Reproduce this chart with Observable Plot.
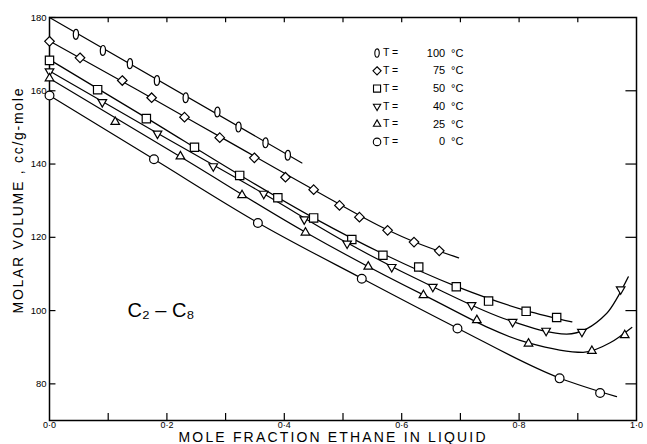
<!DOCTYPE html>
<html>
<head>
<meta charset="utf-8">
<script src="https://cdn.jsdelivr.net/npm/d3@7"></script>
<script src="https://cdn.jsdelivr.net/npm/@observablehq/plot@0.6"></script>
<style>
  html, body { margin: 0; padding: 0; background: #fff; }
  #chart svg { display: block; }
</style>
</head>
<body>
<div id="chart"></div>
<script>
// ---------- data ----------
const temps = ["100", "75", "50", "40", "25", "0"];

// measured points (mole fraction ethane, molar volume cc/g-mole)
const x100 = [0.045, 0.091, 0.137, 0.183, 0.232, 0.286, 0.322, 0.368, 0.406];
const y100 = [175.4, 171.0, 167.4, 162.8, 158.1, 154.2, 150.1, 145.8, 142.4];
const x75 = [0, 0.052, 0.124, 0.174, 0.230, 0.290, 0.349, 0.402, 0.450, 0.494, 0.528, 0.576, 0.621, 0.664];
const y75 = [173.5, 169.0, 162.8, 158.1, 152.8, 147.2, 141.7, 136.4, 133.0, 128.7, 125.5, 121.9, 118.7, 116.3];
const x50 = [0, 0.082, 0.165, 0.247, 0.324, 0.389, 0.450, 0.515, 0.568, 0.629, 0.693, 0.748, 0.812, 0.864];
const y50 = [168.3, 160.3, 152.4, 144.6, 136.9, 130.8, 125.3, 119.4, 115.1, 111.9, 106.5, 102.6, 99.8, 98.1];
const x40 = [0, 0.090, 0.184, 0.279, 0.365, 0.434, 0.507, 0.583, 0.653, 0.719, 0.789, 0.846, 0.907, 0.973];
const y40 = [165.3, 156.9, 148.3, 139.4, 131.9, 124.9, 118.3, 111.9, 106.5, 101.5, 96.9, 94.5, 94.2, 105.8];
const x25 = [0, 0.112, 0.223, 0.328, 0.436, 0.543, 0.637, 0.728, 0.816, 0.924, 0.980];
const y25 = [163.4, 151.5, 142.1, 131.5, 121.3, 112.0, 104.2, 97.4, 91.0, 89.0, 93.3];
const x0 = [0, 0.178, 0.355, 0.532, 0.695, 0.869, 0.938];
const y0 = [158.7, 141.3, 123.9, 108.7, 95.1, 81.5, 77.5];

// drawn smooth curves
const cx100 = [0, 0.43];
const cy100 = [180, 140.3];
const cx75 = [0, 0.15, 0.30, 0.45, 0.576, 0.621, 0.697];
const cy75 = [173.6, 160.2, 146.6, 133.0, 122.0, 118.8, 114.4];
const cx50 = [0, 0.165, 0.324, 0.45, 0.568, 0.693, 0.812, 0.89];
const cy50 = [168.5, 152.6, 137.0, 125.3, 115.5, 106.6, 100.0, 96.9];
const cx40 = [0, 0.184, 0.365, 0.507, 0.653, 0.789, 0.881, 0.949, 0.986];
const cy40 = [165.4, 148.4, 131.9, 118.5, 106.5, 97.0, 93.6, 99.2, 109.2];
const cx25 = [0, 0.223, 0.436, 0.637, 0.816, 0.909, 0.955, 0.992];
const cy25 = [163.4, 142.0, 121.4, 104.3, 91.2, 88.6, 91.2, 95.4];
const cx0 = [0, 0.178, 0.355, 0.532, 0.695, 0.869, 0.966];
const cy0 = [158.7, 141.3, 124.0, 108.8, 95.2, 81.6, 76.5];

// axis ticks
const xTickLabels = [0, 0.2, 0.4, 0.6, 0.8, 1.0];
const xMinorTicks = [0.1, 0.2, 0.3, 0.4, 0.5, 0.6, 0.7, 0.8, 0.9];
const yTickLabels = [80, 100, 120, 140, 160, 180];
const yRightTicks = [80, 100, 120, 140, 160];

// ---------- assemble ----------
const pts = [[x100, y100], [x75, y75], [x50, y50], [x40, y40], [x25, y25], [x0, y0]]
  .map(([xs, ys]) => xs.map((x, i) => ({x, y: ys[i]})));
const curves = [[cx100, cy100], [cx75, cy75], [cx50, cy50], [cx40, cy40], [cx25, cy25], [cx0, cy0]]
  .map(([xs, ys]) => xs.map((x, i) => ({x, y: ys[i]})));

const ellipse = {
  draw(ctx, size) {
    const r = Math.sqrt(size / Math.PI);
    const rx = r * 0.58, ry = r * 1.1, k = 0.5523;
    ctx.moveTo(0, -ry);
    ctx.bezierCurveTo(k * rx, -ry, rx, -k * ry, rx, 0);
    ctx.bezierCurveTo(rx, k * ry, k * rx, ry, 0, ry);
    ctx.bezierCurveTo(-k * rx, ry, -rx, k * ry, -rx, 0);
    ctx.bezierCurveTo(-rx, -k * ry, -k * rx, -ry, 0, -ry);
    ctx.closePath();
  }
};
const symbols = [
  {symbol: ellipse, r: 4.5, rotate: 0},
  {symbol: "diamond2", r: 4.3, rotate: 0},
  {symbol: "square2", r: 5.3, rotate: 0},
  {symbol: "triangle2", r: 4.1, rotate: 180},
  {symbol: "triangle2", r: 4.1, rotate: 0},
  {symbol: "circle", r: 4.4, rotate: 0}
];

const legendRows = temps.map((t, i) => ({t, i}));
const legY = d => 170.3 - d.i * 4.85;

const font = "'Liberation Sans', Arial, sans-serif";

const marks = [
  Plot.frame({stroke: "black", strokeWidth: 1.5}),
  // inward ticks
  Plot.ruleX(xMinorTicks, {x: d => d, y1: 70, y2: 71.9, stroke: "black", strokeWidth: 1.2}),
  Plot.ruleX(xMinorTicks, {x: d => d, y1: 180, y2: 178.6, stroke: "black", strokeWidth: 1.2}),
  Plot.ruleY(yTickLabels, {y: d => d, x1: 0, x2: 0.011, stroke: "black", strokeWidth: 1.2}),
  Plot.ruleY(yRightTicks, {y: d => d, x1: 1, x2: 0.982, stroke: "black", strokeWidth: 1.2}),
  Plot.axisY({ticks: yTickLabels, tickSize: 0, tickPadding: 3, fontSize: 9.5, label: null,
              tickFormat: d => String(d)}),
  Plot.axisX({ticks: xTickLabels, tickSize: 0, tickPadding: 1, fontSize: 9, label: null,
              tickFormat: d => d.toFixed(1).replace(".", "·")}),
];

curves.forEach(c => {
  marks.push(Plot.line(c, {x: "x", y: "y", curve: "monotone-x", stroke: "black", strokeWidth: 1.2}));
});
pts.forEach((p, k) => {
  const s = symbols[k];
  marks.push(Plot.dot(p, {x: "x", y: "y", symbol: () => s.symbol, r: s.r, rotate: s.rotate,
    stroke: "black", fill: "white", strokeWidth: 1.2}));
});

// legend
legendRows.forEach(row => {
  const s = symbols[row.i];
  marks.push(Plot.dot([row], {x: () => 0.558, y: legY, symbol: () => s.symbol, r: s.r * 0.85,
    rotate: s.rotate, stroke: "black", fill: "white", strokeWidth: 1.1}));
});
marks.push(Plot.text(legendRows, {x: () => 0.568, y: legY, text: () => "T =", textAnchor: "start",
  fontSize: 10.5, fill: "black"}));
marks.push(Plot.text(legendRows, {x: () => 0.674, y: legY, text: "t", textAnchor: "end",
  fontSize: 11, fill: "black", letterSpacing: "1.5px"}));
marks.push(Plot.text(legendRows, {x: () => 0.684, y: legY, text: () => "°C", textAnchor: "start",
  fontSize: 11, fill: "black"}));

// annotation
marks.push(Plot.text(["C₂ – C₈"], {x: () => 0.19, y: () => 100, text: d => d, fontSize: 20,
  fill: "black"}));

// axis titles (start-anchored, stretched below)
marks.push(Plot.text(["MOLE FRACTION ETHANE IN LIQUID"], {frameAnchor: "bottom-left", dx: 129, dy: 17,
  text: d => d, textAnchor: "start", fontSize: 14, fill: "black", lineAnchor: "middle"}));
marks.push(Plot.text(["MOLAR VOLUME , cc/g-mole"], {frameAnchor: "bottom-left", dx: -31, dy: -107,
  rotate: -90, text: d => d, textAnchor: "start", fontSize: 14, fill: "black", lineAnchor: "middle"}));

const chart = Plot.plot({
  width: 647,
  height: 444,
  marginLeft: 49,
  marginRight: 11,
  marginTop: 17,
  marginBottom: 24,
  x: {domain: [0, 1]},
  y: {domain: [70, 180]},
  style: {fontFamily: font, background: "white", color: "black"},
  marks
});
document.getElementById("chart").appendChild(chart);

// stretch axis titles with letter spacing like the lettering guide
chart.querySelectorAll("text").forEach(t => {
  const s = t.textContent;
  if (s === "MOLE FRACTION ETHANE IN LIQUID") { t.setAttribute("textLength", 307); t.setAttribute("lengthAdjust", "spacing"); }
  if (s === "MOLAR VOLUME , cc/g-mole") { t.setAttribute("textLength", 225); t.setAttribute("lengthAdjust", "spacing"); }
});
</script>
</body>
</html>
